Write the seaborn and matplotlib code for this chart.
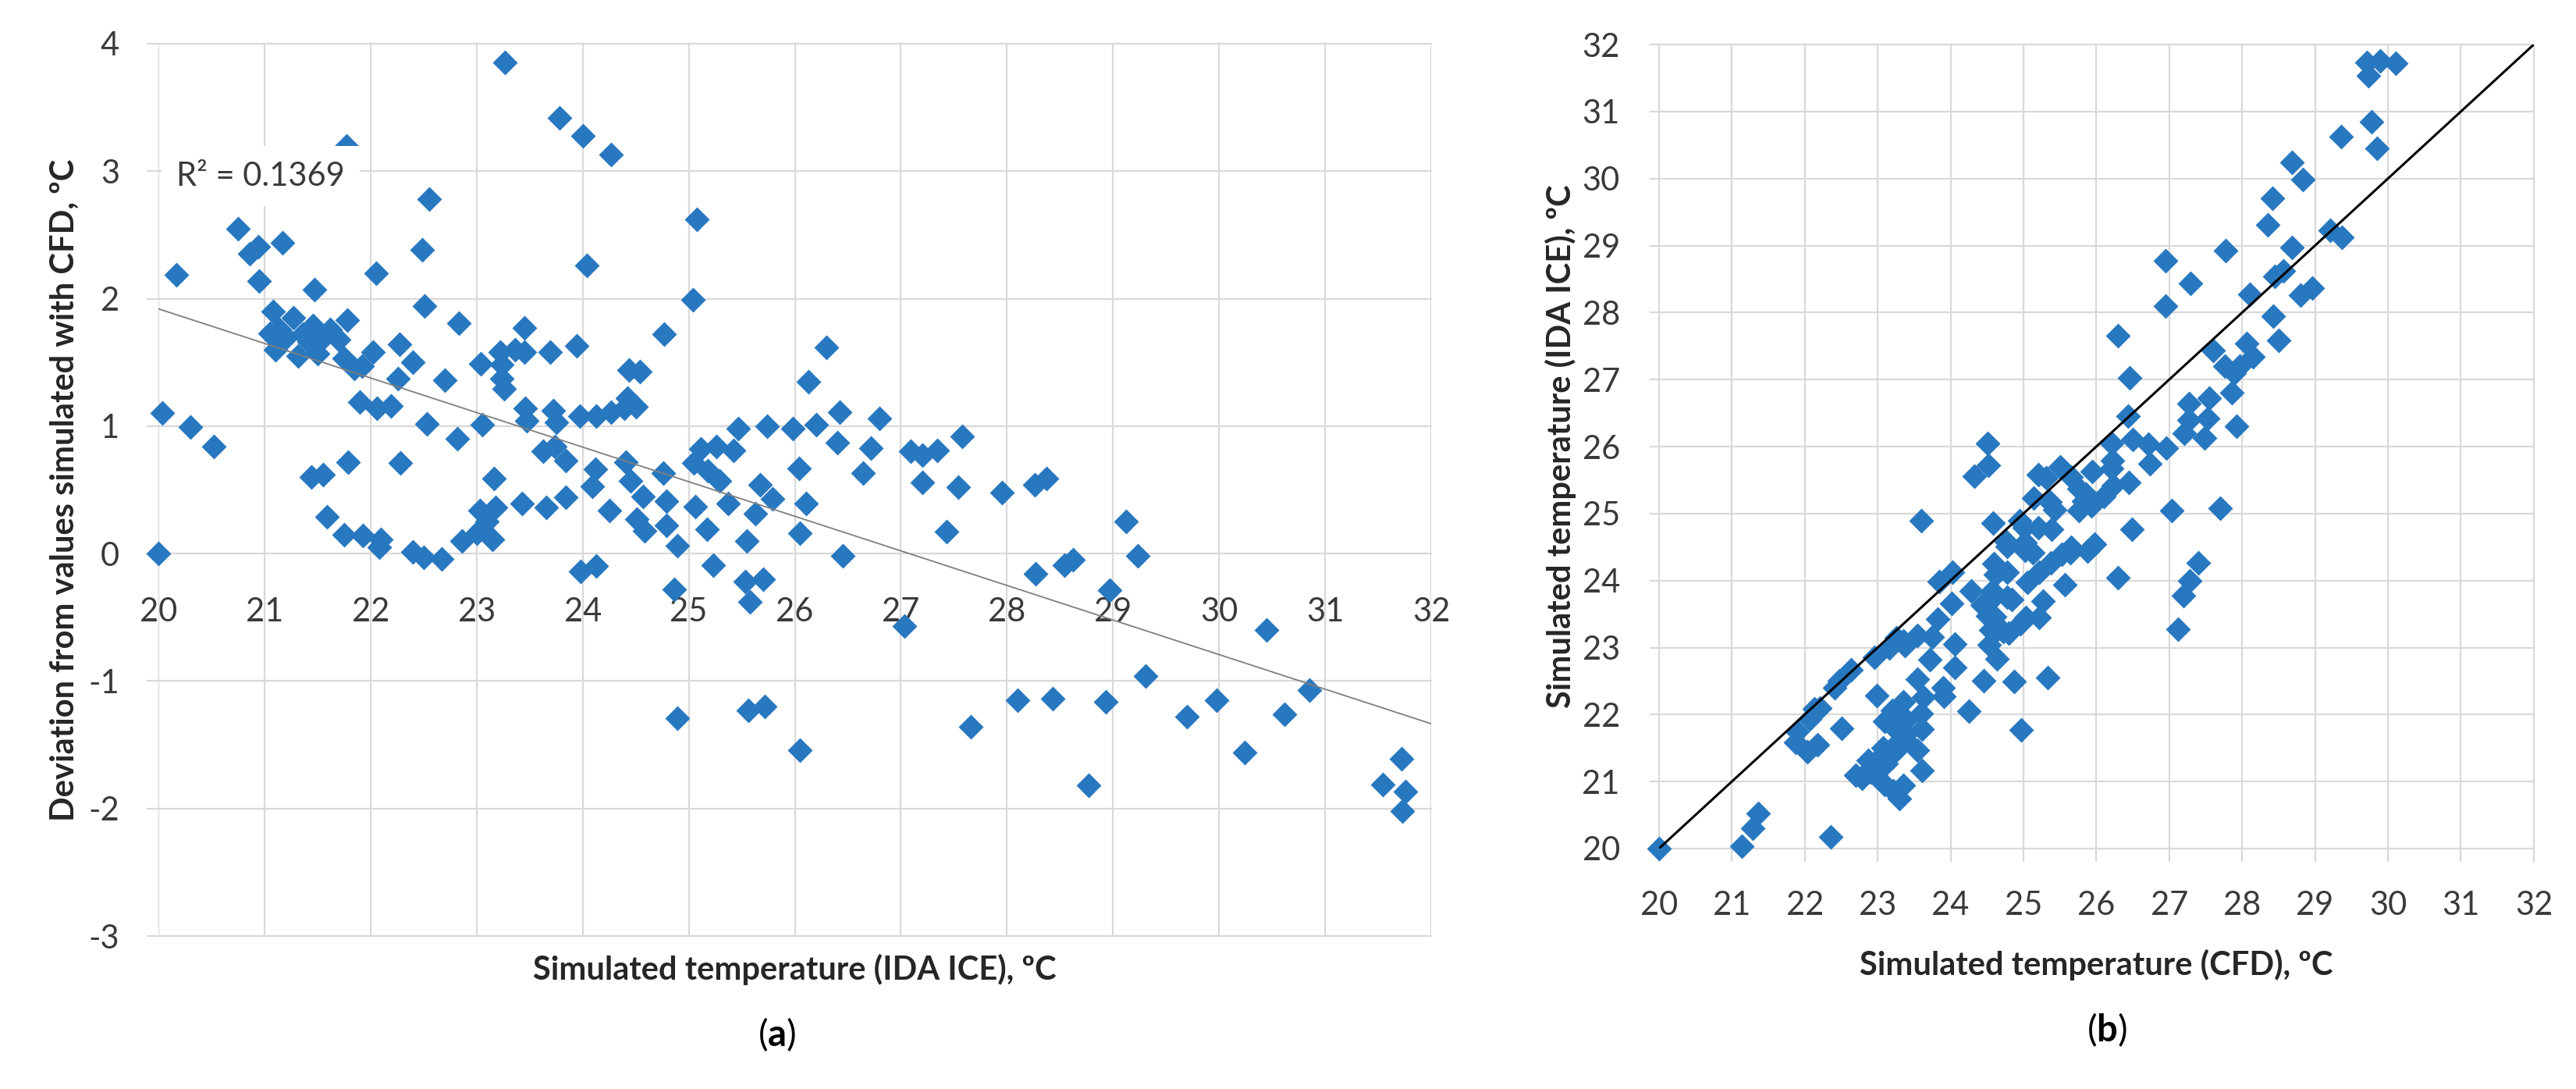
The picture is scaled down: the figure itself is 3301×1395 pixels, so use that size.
import numpy as np
import pandas as pd
import matplotlib
matplotlib.use("Agg")
import matplotlib.pyplot as plt
import seaborn as sns

# -------------------------------------------------
# values: IDA ICE temperature and deviation (CFD - IDA ICE)
ida_temp = [
    20.00, 20.04, 20.30, 20.52, 20.17, 20.75, 20.86, 20.94, 20.95, 21.17,
    21.47, 21.77, 22.05, 22.49, 22.55, 22.51, 22.83, 23.27, 23.78, 24.00,
    24.27, 25.08, 24.04, 25.04, 24.77,
    21.08, 21.27, 21.46, 21.78, 21.62, 21.05, 21.21, 21.56, 21.70, 21.42,
    21.10, 21.32, 21.50, 21.75, 21.92, 21.85, 22.02, 22.27, 22.40, 22.26,
    22.70, 21.14, 21.36, 21.90, 22.06, 22.19, 22.53, 22.82, 23.05,
    21.44, 21.55, 21.79, 22.28,
    21.59, 21.75, 21.93, 22.10, 22.08, 22.40, 22.50, 22.67, 22.86, 23.00,
    23.15, 23.03, 23.18, 23.10, 23.16, 23.43, 23.66, 23.84,
    23.04, 23.22, 23.36, 23.45, 23.45, 23.24, 23.24, 23.26, 23.69, 23.94,
    23.46, 23.47, 23.72, 23.75, 23.97, 24.13, 24.27, 24.39, 24.50, 24.42,
    24.44, 24.54, 23.63, 23.74, 23.84, 23.98, 24.13,
    24.12, 24.09, 24.41, 24.76, 24.45, 24.57, 24.79, 24.25, 24.51, 24.79,
    24.58, 24.89, 24.86,
    25.06, 25.17, 25.23, 25.11, 25.26, 25.42, 25.05, 25.18, 25.29, 25.37,
    25.47, 25.74, 25.98, 25.67, 25.79, 25.63, 25.55, 25.53, 25.70, 25.58,
    24.89, 25.56, 25.72,
    26.20, 26.13, 26.30, 26.42, 26.80, 26.40, 26.72, 26.64, 26.04, 26.11,
    26.05, 26.45, 26.05,
    27.09, 27.20, 27.34, 27.58, 27.20, 27.54, 27.95, 27.43, 27.03, 27.66,
    28.26, 28.37, 29.12, 29.23, 28.27, 28.54, 28.62, 28.97, 30.45, 29.31,
    28.10, 28.43, 28.93, 29.70, 29.98, 30.24, 30.62, 30.85, 28.77, 31.72,
    31.54, 31.76, 31.73,
]

deviation = [
    0.00, 1.10, 0.99, 0.84, 2.19, 2.55, 2.35, 2.41, 2.14, 2.44,
    2.07, 3.20, 2.20, 2.38, 2.78, 1.94, 1.81, 3.85, 3.42, 3.28,
    3.13, 2.62, 2.26, 1.99, 1.72,
    1.90, 1.85, 1.79, 1.83, 1.76, 1.73, 1.70, 1.70, 1.68, 1.66,
    1.60, 1.55, 1.57, 1.53, 1.47, 1.45, 1.58, 1.64, 1.50, 1.37,
    1.36, 1.76, 1.72, 1.19, 1.14, 1.16, 1.02, 0.90, 1.01,
    0.60, 0.62, 0.72, 0.71,
    0.29, 0.15, 0.14, 0.11, 0.05, 0.01, -0.03, -0.04, 0.10, 0.16,
    0.11, 0.34, 0.36, 0.25, 0.59, 0.39, 0.36, 0.44,
    1.49, 1.58, 1.60, 1.77, 1.58, 1.48, 1.37, 1.29, 1.58, 1.63,
    1.14, 1.04, 1.12, 1.03, 1.08, 1.08, 1.11, 1.14, 1.15, 1.22,
    1.44, 1.43, 0.80, 0.84, 0.73, -0.14, -0.10,
    0.66, 0.53, 0.72, 0.63, 0.57, 0.45, 0.41, 0.34, 0.27, 0.22,
    0.18, 0.06, -0.28,
    0.37, 0.19, -0.09, 0.82, 0.84, 0.81, 0.71, 0.65, 0.57, 0.39,
    0.98, 1.00, 0.98, 0.54, 0.43, 0.31, 0.10, -0.22, -0.20, -0.38,
    -1.29, -1.23, -1.20,
    1.01, 1.35, 1.62, 1.11, 1.06, 0.87, 0.83, 0.63, 0.67, 0.39,
    0.16, -0.02, -1.54,
    0.80, 0.77, 0.81, 0.92, 0.56, 0.52, 0.48, 0.17, -0.57, -1.36,
    0.54, 0.59, 0.25, -0.02, -0.16, -0.09, -0.05, -0.29, -0.60, -0.96,
    -1.15, -1.14, -1.16, -1.28, -1.15, -1.56, -1.26, -1.07, -1.82, -1.61,
    -1.81, -1.87, -2.02,
]

# linear trend shown in (a) and the 1:1 line of (b)
trend_x = [20, 32]
trend_y = [1.92, -1.335]
r2_label = "R\u00b2 = 0.1369"
diag_line = [20, 32]

temp_ticks = list(range(20, 33))
dev_ticks = list(range(-3, 5))

# -------------------------------------------------
df = pd.DataFrame({"ida": ida_temp, "dev": deviation})
df["cfd"] = df["ida"] + df["dev"]   # deviation = CFD - IDA ICE

sns.set_style("white")
plt.rcParams["font.family"] = ["Lato", "DejaVu Sans"]
plt.rcParams["mathtext.fontset"] = "custom"
plt.rcParams["mathtext.rm"] = "Lato"
plt.rcParams["mathtext.bf"] = "Lato:bold"
plt.rcParams["axes.unicode_minus"] = False

BLUE = "#2878C0"
GRID = "#D9D9D9"
TICK_TXT = "#3A3A3A"
LABEL_TXT = "#262626"
GRID_LW = 1.6

fig = plt.figure(figsize=(33.01, 13.95), dpi=100)
ax_a = fig.add_axes([0.0615, 0.1405, 0.4941, 0.8194])
ax_b = fig.add_axes([0.644, 0.2208, 0.3396, 0.7383])


def style_axes(ax):
    ax.grid(True, color=GRID, linewidth=GRID_LW)
    ax.set_axisbelow(True)
    for sp in ax.spines.values():
        sp.set_visible(False)
    for ln in ax.get_xgridlines() + ax.get_ygridlines():
        ln.set_clip_on(False)


# --- panel (a) ---
sns.scatterplot(data=df, x="ida", y="dev", marker="D", s=265, color=BLUE,
                linewidth=0, ax=ax_a, zorder=3, clip_on=False)
sns.lineplot(x=trend_x, y=trend_y, color="#7F7F7F", linewidth=1.3, ax=ax_a, zorder=4)
ax_a.set_xlim(20, 32)
ax_a.set_ylim(-3, 4)
ax_a.set_xticks(temp_ticks)
ax_a.set_yticks(dev_ticks)
style_axes(ax_a)
ax_a.spines["bottom"].set_position(("data", 0))
ax_a.tick_params(axis="x", bottom=True, length=0, pad=40, labelsize=30, labelcolor=TICK_TXT)
ax_a.tick_params(axis="y", left=True, length=11, width=GRID_LW, color=GRID, pad=25,
                 labelsize=30, labelcolor=TICK_TXT)
ax_a.set_xlabel("Simulated temperature (IDA ICE), \u00baC", fontsize=30,
                fontweight="bold", color=LABEL_TXT)
ax_a.xaxis.set_label_coords(0.5, -0.02)
ax_a.set_ylabel("Deviation from values simulated with CFD, \u00baC", fontsize=30,
                fontweight="bold", color=LABEL_TXT)
ax_a.yaxis.set_label_coords(-0.062, 0.5)
ax_a.text(20.17, 2.96, r2_label, fontsize=30, color=TICK_TXT, ha="left", va="center",
          zorder=6, bbox=dict(facecolor="white", edgecolor="none", pad=14))

# --- panel (b) ---
sns.scatterplot(data=df, x="cfd", y="ida", marker="D", s=265, color=BLUE,
                linewidth=0, ax=ax_b, zorder=3, clip_on=False)
sns.lineplot(x=diag_line, y=diag_line, color="black", linewidth=2.2, ax=ax_b, zorder=4)
ax_b.set_xlim(20, 32)
ax_b.set_ylim(20, 32)
ax_b.set_xticks(temp_ticks)
ax_b.set_yticks(temp_ticks)
style_axes(ax_b)
ax_b.tick_params(axis="x", bottom=True, length=12, width=GRID_LW, color=GRID, pad=27,
                 labelsize=30, labelcolor=TICK_TXT)
ax_b.tick_params(axis="y", left=True, length=9, width=GRID_LW, color=GRID, pad=27,
                 labelsize=30, labelcolor=TICK_TXT)
ax_b.set_xlabel("Simulated temperature (CFD), \u00baC", fontsize=30,
                fontweight="bold", color=LABEL_TXT)
ax_b.xaxis.set_label_coords(0.5, -0.125)
ax_b.set_ylabel("Simulated temperature (IDA ICE), \u00baC", fontsize=30,
                fontweight="bold", color=LABEL_TXT)
ax_b.yaxis.set_label_coords(-0.094, 0.5)

# panel letters
fig.text(0.3017, 0.050, r"($\mathbf{a}$)", fontsize=34, ha="center", va="center", color="black")
fig.text(0.818, 0.054, r"($\mathbf{b}$)", fontsize=34, ha="center", va="center", color="black")

fig.savefig("out.png", dpi=100)
